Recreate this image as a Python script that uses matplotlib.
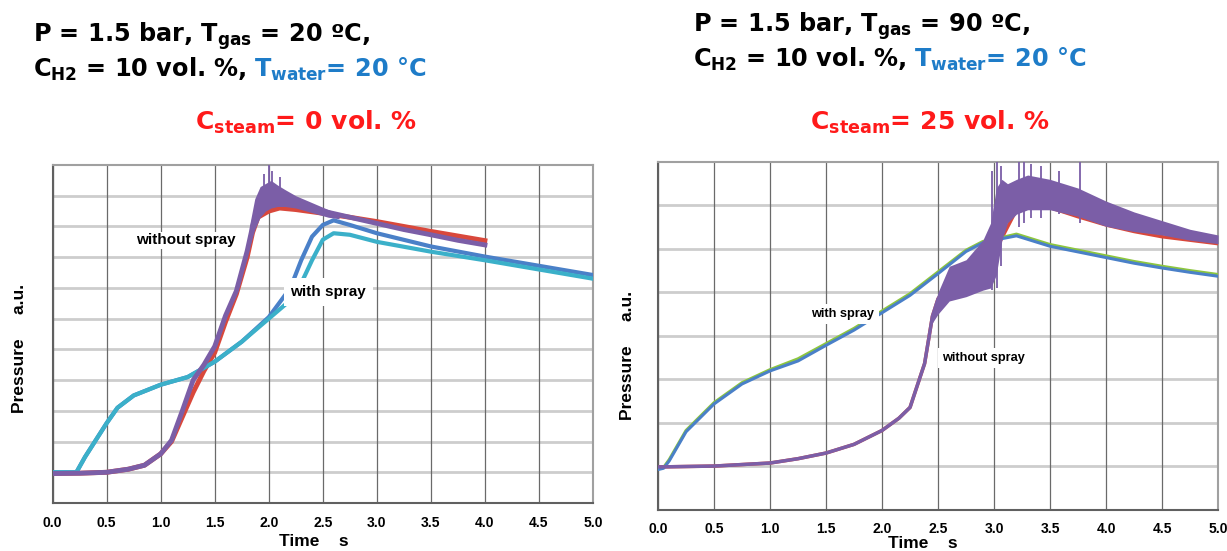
import numpy as np
import matplotlib
matplotlib.use('Agg')
import matplotlib.pyplot as plt

plt.rcParams['font.family'] = ['Liberation Sans', 'DejaVu Sans']
plt.rcParams['font.weight'] = 'bold'
plt.rcParams['mathtext.fontset'] = 'custom'
plt.rcParams['mathtext.rm'] = 'Liberation Sans:bold'
plt.rcParams['mathtext.it'] = 'Liberation Sans:bold'
plt.rcParams['mathtext.bf'] = 'Liberation Sans:bold'
plt.rcParams['mathtext.default'] = 'regular'

# ---- colours
PURPLE = '#7b5ea7'
RED = '#d9483b'
CYAN = '#3bb0c9'
BLUE = '#4a80c8'
GREEN = '#8dc63f'

# ---- left panel: T_gas = 20 C, no steam
L_t_dry = [0, 0.25, 0.5, 0.7, 0.85, 1.0, 1.1, 1.2, 1.3, 1.4, 1.5, 1.6, 1.7, 1.8, 1.85, 1.9,
           2.0, 2.1, 2.25, 2.5, 2.75, 3.0, 3.25, 3.5, 3.75, 4.0]
L_purple = [0.96, 0.97, 1.0, 1.1, 1.23, 1.6, 2.04, 3.0, 4.0, 4.5, 5.1, 6.1, 6.9, 8.2, 9.0, 9.65,
            10.1, 9.95, 9.75, 9.5, 9.3, 9.1, 8.9, 8.73, 8.55, 8.4]
L_red = [0.96, 0.97, 1.0, 1.1, 1.23, 1.6, 2.0, 2.8, 3.6, 4.3, 4.9, 5.9, 6.8, 8.0, 8.8, 9.3,
         9.5, 9.6, 9.55, 9.43, 9.3, 9.16, 9.0, 8.84, 8.69, 8.54]
L_noise_t = [1.82, 1.87, 1.92, 1.97, 2.02, 2.08, 2.15, 2.25, 2.35, 2.45, 2.55, 2.65]
L_noise_hi = [9.0, 9.9, 10.3, 10.4, 10.5, 10.35, 10.2, 10.0, 9.85, 9.7, 9.55, 9.4]
L_noise_lo = [8.3, 8.9, 9.3, 9.5, 9.6, 9.65, 9.65, 9.6, 9.5, 9.4, 9.3, 9.25]
L_spike_t = [1.96, 2.0, 2.03, 2.1]
L_spike_y = [10.7, 11.0, 10.8, 10.6]

L_t_spray = [0, 0.22, 0.3, 0.4, 0.5, 0.6, 0.75, 1.0, 1.25, 1.5, 1.75, 2.0, 2.2, 2.3, 2.4, 2.5,
             2.6, 2.75, 3.0, 3.5, 4.0, 4.5, 5.0]
L_cyan = [1.0, 1.0, 1.5, 2.05, 2.6, 3.1, 3.5, 3.85, 4.1, 4.6, 5.25, 6.0, 6.6, 7.15, 7.9, 8.57,
          8.78, 8.73, 8.5, 8.18, 7.9, 7.6, 7.3]
L_blue = [1.0, 1.0, 1.5, 2.05, 2.6, 3.1, 3.5, 3.85, 4.1, 4.6, 5.25, 6.05, 7.0, 7.9, 8.67, 9.05,
          9.2, 9.05, 8.78, 8.35, 8.02, 7.72, 7.42]

# ---- right panel: T_gas = 90 C, 25 % steam
R_t_spray = [0.0, 0.05, 0.1, 0.25, 0.5, 0.75, 1.0, 1.25, 1.5, 1.75, 2.0, 2.25, 2.5, 2.75, 2.9,
             3.0, 3.2, 3.5, 3.75, 4.0, 4.25, 4.5, 4.75, 5.0]
R_green = [0.95, 0.97, 1.15, 1.82, 2.46, 2.92, 3.22, 3.47, 3.82, 4.17, 4.57, 4.97, 5.47, 5.97,
           6.17, 6.22, 6.34, 6.1, 5.97, 5.84, 5.71, 5.6, 5.5, 5.41]
R_blue = [0.92, 0.95, 1.12, 1.79, 2.43, 2.89, 3.19, 3.42, 3.78, 4.13, 4.53, 4.93, 5.43, 5.94,
          6.14, 6.2, 6.3, 6.06, 5.93, 5.8, 5.67, 5.56, 5.46, 5.37]

R_t_dry = [0, 0.5, 1.0, 1.25, 1.5, 1.75, 2.0, 2.15, 2.25, 2.3, 2.38, 2.42, 2.45, 2.5, 2.6, 2.75,
           2.9, 3.0, 3.1, 3.2, 3.3, 3.5, 3.75, 4.0, 4.25, 4.5, 4.75, 5.0]
R_purple = [0.98, 1.0, 1.07, 1.17, 1.3, 1.5, 1.82, 2.1, 2.35, 2.74, 3.36, 3.98, 4.45, 4.85, 5.2,
            5.3, 5.6, 5.9, 6.7, 7.05, 7.25, 7.3, 7.1, 6.8, 6.65, 6.5, 6.35, 6.2]
R_red = [0.98, 1.0, 1.07, 1.17, 1.3, 1.5, 1.82, 2.1, 2.35, 2.74, 3.36, 3.98, 4.45, 4.85, 5.2,
         5.3, 5.6, 5.9, 6.4, 6.9, 7.0, 6.95, 6.74, 6.55, 6.4, 6.28, 6.2, 6.12]
R_noise_t = [2.45, 2.5, 2.6, 2.75, 2.9, 2.97, 3.02, 3.07, 3.12, 3.2, 3.3, 3.4, 3.5, 3.75, 4.0,
             4.25, 4.5, 4.75, 5.0]
R_noise_hi = [4.5, 5.0, 5.6, 5.75, 6.2, 6.6, 7.4, 7.6, 7.5, 7.6, 7.7, 7.65, 7.6, 7.4, 7.1,
              6.85, 6.65, 6.45, 6.32]
R_noise_lo = [4.3, 4.5, 4.8, 4.9, 5.05, 5.1, 5.4, 6.2, 6.6, 6.8, 6.9, 6.9, 6.9, 6.75, 6.52,
              6.4, 6.32, 6.2, 6.12]
R_spike_t = [2.98, 3.03, 3.06, 3.22, 3.27, 3.33, 3.42, 3.58, 3.77]
R_spike_hi = [7.8, 8.0, 7.9, 8.0, 8.0, 7.95, 7.9, 7.8, 8.0]
R_spike_lo = [5.05, 5.1, 5.6, 6.5, 6.6, 6.7, 6.7, 6.8, 6.6]

x_ticks = [0.0, 0.5, 1.0, 1.5, 2.0, 2.5, 3.0, 3.5, 4.0, 4.5, 5.0]

fig = plt.figure(figsize=(12.27, 5.51), dpi=100)
axL = fig.add_axes([0.0429, 0.0871, 0.4404, 0.6134])
axR = fig.add_axes([0.5363, 0.0753, 0.4564, 0.6307])


def style_axes(ax, ymax):
    ax.set_xlim(0, 5)
    ax.set_ylim(0, ymax)
    ax.set_xticks(x_ticks)
    ax.set_xticklabels(['%.1f' % v for v in x_ticks], fontsize=10, fontweight='bold')
    ax.set_yticks(np.arange(0, ymax + 1))
    ax.set_yticklabels([])
    ax.tick_params(length=0, pad=9)
    for v in x_ticks:
        ax.axvline(v, color='#6a6a6a', lw=0.9, zorder=1)
    for v in range(1, ymax):
        ax.axhline(v, color='#cdcdcd', lw=2, zorder=0.9)
    for s in ax.spines.values():
        s.set_color('#a0a0a0')
        s.set_linewidth(1.5)
    ax.spines['left'].set_color('#606060')
    ax.spines['bottom'].set_color('#606060')


style_axes(axL, 11)
style_axes(axR, 8)

# left curves
axL.plot(L_t_dry, L_red, color=RED, lw=3.5, zorder=3)
axL.plot(L_t_dry, L_purple, color=PURPLE, lw=3.5, zorder=4)
axL.fill_between(L_noise_t, L_noise_lo, L_noise_hi, color=PURPLE, lw=0, zorder=4)
axL.vlines(L_spike_t, 9.8, L_spike_y, color=PURPLE, lw=1.3, zorder=4)
axL.plot(L_t_spray, L_blue, color=BLUE, lw=3, zorder=3)
axL.plot(L_t_spray, L_cyan, color=CYAN, lw=3, zorder=3)
axL.text(0.77, 8.55, 'without spray', fontsize=11, fontweight='bold', va='center', zorder=6,
         bbox=dict(facecolor='white', edgecolor='none', pad=1))
axL.text(2.2, 6.87, 'with spray', fontsize=11, fontweight='bold', va='center', zorder=6,
         bbox=dict(facecolor='white', edgecolor='none', boxstyle='square,pad=0.45'))

# right curves
axR.plot(R_t_dry, R_red, color=RED, lw=2.5, zorder=3)
axR.fill_between(R_noise_t, R_noise_lo, R_noise_hi, color=PURPLE, lw=0, zorder=4)
axR.vlines(R_spike_t, R_spike_lo, R_spike_hi, color=PURPLE, lw=1.3, zorder=4)
axR.plot(R_t_dry, R_purple, color=PURPLE, lw=2.5, zorder=4)
axR.plot(R_t_spray, R_green, color=GREEN, lw=2.2, zorder=3)
axR.plot(R_t_spray, R_blue, color=BLUE, lw=2.2, zorder=3)
axR.text(1.37, 4.5, 'with spray', fontsize=9.2, fontweight='bold', va='center', zorder=6,
         bbox=dict(facecolor='white', edgecolor='none', pad=3))
axR.text(2.54, 3.49, 'without spray', fontsize=9.2, fontweight='bold', va='center', zorder=6,
         bbox=dict(facecolor='white', edgecolor='none', pad=3))

# axis labels
fig.text(20 / 1227, 1 - 348 / 551, 'Pressure     a.u.', rotation=90, fontsize=12.5,
         fontweight='bold', ha='center', va='center')
fig.text(628 / 1227, 1 - 355 / 551, 'Pressure     a.u.', rotation=90, fontsize=12.5,
         fontweight='bold', ha='center', va='center')
fig.text(314 / 1227, 1 - 541 / 551, 'Time    s', fontsize=12.5, fontweight='bold',
         ha='center', va='center')
fig.text(923 / 1227, 1 - 544 / 551, 'Time    s', fontsize=12.5, fontweight='bold',
         ha='center', va='center')

# condition headers
TS = 17.3
TS_RED = 18
HF = 'DejaVu Sans'
BLUE_T = '#1e7cc8'
RED_T = '#ff1a1a'


def header(x, y1, y2, tgas, ysteam, xsteam, steam):
    fig.text(x / 1227, 1 - y1 / 551, 'P = 1.5 bar, T$_{gas}$ = %s ºC,' % tgas,
             fontsize=TS, fontweight='bold', family=HF, va='baseline')
    t2 = fig.text(x / 1227, 1 - y2 / 551, 'C$_{H2}$ = 10 vol. %,',
                  fontsize=TS, fontweight='bold', family=HF, va='baseline')
    fig.add_artist(plt.Annotation('T$_{water}$= 20 °C', xy=(1, 0), xycoords=t2,
                                  xytext=(5.5, 0), textcoords='offset points', va='bottom',
                                  fontsize=TS, fontweight='bold', family=HF, color=BLUE_T,
                                  annotation_clip=False))
    fig.text(xsteam / 1227, 1 - ysteam / 551, 'C$_{steam}$= %s vol. %%' % steam,
             fontsize=TS_RED, fontweight='bold', family=HF, color=RED_T, va='baseline')


header(33, 42, 77, '20', 130, 195, '0')
header(693, 32, 67, '90', 130, 810, '25')

fig.savefig('out.png', dpi=100)
